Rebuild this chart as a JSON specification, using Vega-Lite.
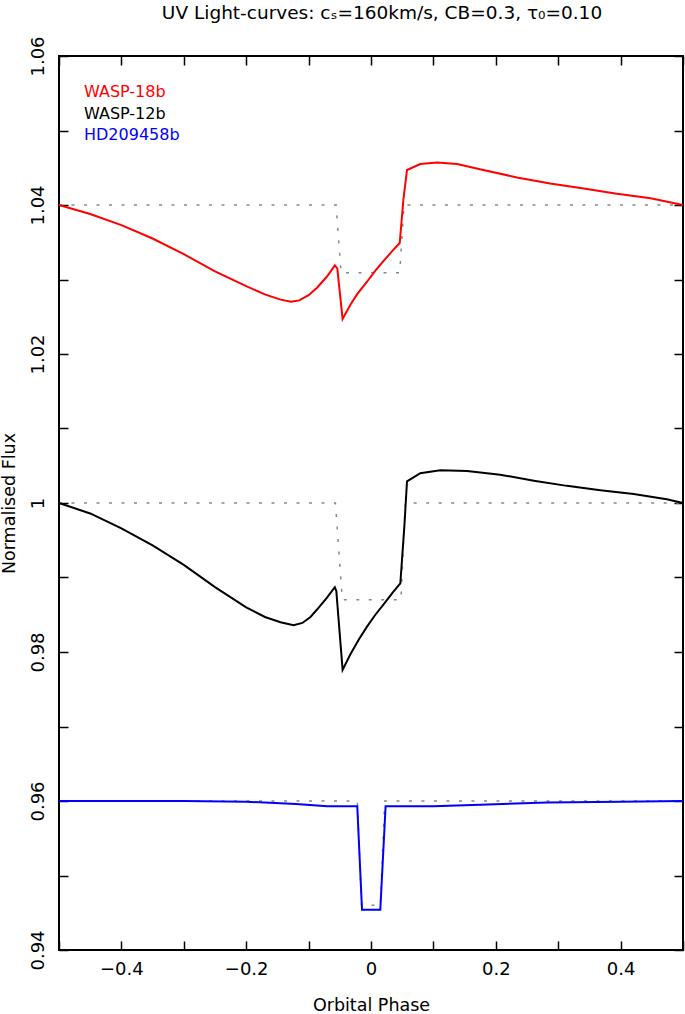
{
  "$schema": "https://vega.github.io/schema/vega-lite/v6.json",
  "autosize": "none",
  "padding": {"left": 59, "top": 56, "right": 2, "bottom": 64},
  "width": 624,
  "height": 894,
  "background": "white",
  "title": {"text": "UV Light-curves: cₛ=160km/s, CB=0.3, τ₀=0.10", "fontSize": 18.5, "fontWeight": "normal", "color": "black", "anchor": "middle", "offset": 13, "dx": 11},
  "config": {
    "font": "DejaVu Sans",
    "view": {"stroke": "black", "strokeWidth": 2},
    "axis": {"grid": false, "domain": false, "labelColor": "black", "titleColor": "black", "titleFontWeight": "normal", "labelFontSize": 18, "titleFontSize": 17.5, "tickColor": "black", "tickWidth": 1.5, "labelFlush": false, "labelOverlap": false}
  },
  "datasets": {
    "curves": [
      {"planet": "WASP-18b", "phase": -0.5, "flux": 1.0400},
      {"planet": "WASP-18b", "phase": -0.45, "flux": 1.0388},
      {"planet": "WASP-18b", "phase": -0.4, "flux": 1.0373},
      {"planet": "WASP-18b", "phase": -0.35, "flux": 1.0355},
      {"planet": "WASP-18b", "phase": -0.3, "flux": 1.0334},
      {"planet": "WASP-18b", "phase": -0.25, "flux": 1.0311},
      {"planet": "WASP-18b", "phase": -0.2, "flux": 1.0291},
      {"planet": "WASP-18b", "phase": -0.17, "flux": 1.0280},
      {"planet": "WASP-18b", "phase": -0.145, "flux": 1.0273},
      {"planet": "WASP-18b", "phase": -0.128, "flux": 1.0270},
      {"planet": "WASP-18b", "phase": -0.115, "flux": 1.0272},
      {"planet": "WASP-18b", "phase": -0.1, "flux": 1.0279},
      {"planet": "WASP-18b", "phase": -0.0865, "flux": 1.0289},
      {"planet": "WASP-18b", "phase": -0.0705, "flux": 1.0304},
      {"planet": "WASP-18b", "phase": -0.058, "flux": 1.0319},
      {"planet": "WASP-18b", "phase": -0.054, "flux": 1.0315},
      {"planet": "WASP-18b", "phase": -0.0455, "flux": 1.0247},
      {"planet": "WASP-18b", "phase": -0.033, "flux": 1.0266},
      {"planet": "WASP-18b", "phase": -0.0224, "flux": 1.0280},
      {"planet": "WASP-18b", "phase": -0.0064, "flux": 1.0297},
      {"planet": "WASP-18b", "phase": 0.007, "flux": 1.0312},
      {"planet": "WASP-18b", "phase": 0.0202, "flux": 1.0325},
      {"planet": "WASP-18b", "phase": 0.035, "flux": 1.0339},
      {"planet": "WASP-18b", "phase": 0.046, "flux": 1.0349},
      {"planet": "WASP-18b", "phase": 0.052, "flux": 1.0408},
      {"planet": "WASP-18b", "phase": 0.0577, "flux": 1.0447},
      {"planet": "WASP-18b", "phase": 0.079, "flux": 1.0455},
      {"planet": "WASP-18b", "phase": 0.106, "flux": 1.0457},
      {"planet": "WASP-18b", "phase": 0.138, "flux": 1.0455},
      {"planet": "WASP-18b", "phase": 0.18, "flux": 1.0447},
      {"planet": "WASP-18b", "phase": 0.234, "flux": 1.0437},
      {"planet": "WASP-18b", "phase": 0.287, "flux": 1.0429},
      {"planet": "WASP-18b", "phase": 0.341, "flux": 1.0422},
      {"planet": "WASP-18b", "phase": 0.394, "flux": 1.0415},
      {"planet": "WASP-18b", "phase": 0.448, "flux": 1.0409},
      {"planet": "WASP-18b", "phase": 0.5, "flux": 1.0400},
      {"planet": "WASP-12b", "phase": -0.5, "flux": 1.0000},
      {"planet": "WASP-12b", "phase": -0.45, "flux": 0.9986},
      {"planet": "WASP-12b", "phase": -0.4, "flux": 0.9966},
      {"planet": "WASP-12b", "phase": -0.35, "flux": 0.9943},
      {"planet": "WASP-12b", "phase": -0.3, "flux": 0.9917},
      {"planet": "WASP-12b", "phase": -0.25, "flux": 0.9887},
      {"planet": "WASP-12b", "phase": -0.2, "flux": 0.9860},
      {"planet": "WASP-12b", "phase": -0.17, "flux": 0.9847},
      {"planet": "WASP-12b", "phase": -0.145, "flux": 0.9840},
      {"planet": "WASP-12b", "phase": -0.124, "flux": 0.9836},
      {"planet": "WASP-12b", "phase": -0.11, "flux": 0.9839},
      {"planet": "WASP-12b", "phase": -0.097, "flux": 0.9847},
      {"planet": "WASP-12b", "phase": -0.0865, "flux": 0.9857},
      {"planet": "WASP-12b", "phase": -0.0705, "flux": 0.9873},
      {"planet": "WASP-12b", "phase": -0.058, "flux": 0.9887},
      {"planet": "WASP-12b", "phase": -0.0556, "flux": 0.9882},
      {"planet": "WASP-12b", "phase": -0.0455, "flux": 0.9776},
      {"planet": "WASP-12b", "phase": -0.033, "flux": 0.9797},
      {"planet": "WASP-12b", "phase": -0.02, "flux": 0.9816},
      {"planet": "WASP-12b", "phase": -0.0064, "flux": 0.9834},
      {"planet": "WASP-12b", "phase": 0.007, "flux": 0.9850},
      {"planet": "WASP-12b", "phase": 0.0202, "flux": 0.9864},
      {"planet": "WASP-12b", "phase": 0.035, "flux": 0.9880},
      {"planet": "WASP-12b", "phase": 0.047, "flux": 0.9892},
      {"planet": "WASP-12b", "phase": 0.0534, "flux": 0.9968},
      {"planet": "WASP-12b", "phase": 0.0577, "flux": 1.0029},
      {"planet": "WASP-12b", "phase": 0.079, "flux": 1.0040},
      {"planet": "WASP-12b", "phase": 0.111, "flux": 1.0044},
      {"planet": "WASP-12b", "phase": 0.154, "flux": 1.0043},
      {"planet": "WASP-12b", "phase": 0.207, "flux": 1.0038},
      {"planet": "WASP-12b", "phase": 0.261, "flux": 1.0030},
      {"planet": "WASP-12b", "phase": 0.314, "flux": 1.0023},
      {"planet": "WASP-12b", "phase": 0.3675, "flux": 1.0017},
      {"planet": "WASP-12b", "phase": 0.421, "flux": 1.0012},
      {"planet": "WASP-12b", "phase": 0.474, "flux": 1.0005},
      {"planet": "WASP-12b", "phase": 0.5, "flux": 1.0000},
      {"planet": "HD209458b", "phase": -0.5, "flux": 0.9600},
      {"planet": "HD209458b", "phase": -0.3, "flux": 0.9600},
      {"planet": "HD209458b", "phase": -0.2, "flux": 0.9599},
      {"planet": "HD209458b", "phase": -0.12, "flux": 0.9596},
      {"planet": "HD209458b", "phase": -0.07, "flux": 0.9593},
      {"planet": "HD209458b", "phase": -0.022, "flux": 0.9593},
      {"planet": "HD209458b", "phase": -0.0144, "flux": 0.9454},
      {"planet": "HD209458b", "phase": 0.0149, "flux": 0.9454},
      {"planet": "HD209458b", "phase": 0.0234, "flux": 0.9593},
      {"planet": "HD209458b", "phase": 0.1, "flux": 0.9593},
      {"planet": "HD209458b", "phase": 0.175, "flux": 0.9595},
      {"planet": "HD209458b", "phase": 0.282, "flux": 0.9598},
      {"planet": "HD209458b", "phase": 0.4, "flux": 0.9599},
      {"planet": "HD209458b", "phase": 0.5, "flux": 0.9600}
    ],
    "refs": [
      {"planet": "WASP-18b", "phase": -0.5, "flux": 1.04},
      {"planet": "WASP-18b", "phase": -0.056, "flux": 1.04},
      {"planet": "WASP-18b", "phase": -0.048, "flux": 1.0309},
      {"planet": "WASP-18b", "phase": 0.046, "flux": 1.0309},
      {"planet": "WASP-18b", "phase": 0.053, "flux": 1.04},
      {"planet": "WASP-18b", "phase": 0.5, "flux": 1.04},
      {"planet": "WASP-12b", "phase": -0.5, "flux": 1.0},
      {"planet": "WASP-12b", "phase": -0.057, "flux": 1.0},
      {"planet": "WASP-12b", "phase": -0.046, "flux": 0.987},
      {"planet": "WASP-12b", "phase": 0.048, "flux": 0.987},
      {"planet": "WASP-12b", "phase": 0.055, "flux": 1.0},
      {"planet": "WASP-12b", "phase": 0.5, "flux": 1.0},
      {"planet": "HD209458b", "phase": -0.5, "flux": 0.96},
      {"planet": "HD209458b", "phase": -0.022, "flux": 0.96},
      {"planet": "HD209458b", "phase": -0.015, "flux": 0.946},
      {"planet": "HD209458b", "phase": 0.015, "flux": 0.946},
      {"planet": "HD209458b", "phase": 0.022, "flux": 0.96},
      {"planet": "HD209458b", "phase": 0.5, "flux": 0.96}
    ]
  },
  "layer": [
    {
      "data": {"name": "refs"},
      "mark": {"type": "line", "color": "#888888", "strokeWidth": 1.5, "strokeDash": [3, 9.5]},
      "encoding": {
        "x": {"field": "phase", "type": "quantitative", "scale": {"domain": [-0.5, 0.5], "nice": false, "zero": false},
          "axis": {"orient": "bottom", "values": [-0.5, -0.4, -0.3, -0.2, -0.1, 0, 0.1, 0.2, 0.3, 0.4, 0.5], "format": "~g",
            "labelExpr": "round(datum.value*10) % 2 == 0 ? datum.label : ''", "tickSize": -9, "labelPadding": 19,
            "title": "Orbital Phase", "titlePadding": 18,
            "encode": {"ticks": {"update": {"y2": {"signal": "round(datum.value*10) % 2 == 0 ? -9 : -5"}}}}}},
        "y": {"field": "flux", "type": "quantitative", "scale": {"domain": [0.94, 1.06], "nice": false, "zero": false},
          "axis": {"orient": "left", "values": [0.94, 0.95, 0.96, 0.97, 0.98, 0.99, 1.0, 1.01, 1.02, 1.03, 1.04, 1.05, 1.06], "format": "~g",
            "labelExpr": "round(datum.value*100) % 2 == 0 ? datum.label : ''", "tickSize": -9, "labelPadding": 21,
            "labelAngle": 270, "labelAlign": "center", "labelBaseline": "bottom",
            "title": "Normalised Flux", "titlePadding": 11,
            "encode": {"ticks": {"update": {"x2": {"signal": "round(datum.value*100) % 2 == 0 ? 9 : 5"}}}}}},
        "detail": {"field": "planet", "type": "nominal"}
      }
    },
    {
      "data": {"name": "curves"},
      "mark": {"type": "line", "strokeWidth": 2},
      "encoding": {
        "x": {"field": "phase", "type": "quantitative",
          "axis": {"orient": "top", "values": [-0.5, -0.4, -0.3, -0.2, -0.1, 0, 0.1, 0.2, 0.3, 0.4, 0.5], "labels": false, "tickSize": -9, "title": null,
            "encode": {"ticks": {"update": {"y2": {"signal": "round(datum.value*10) % 2 == 0 ? 9 : 5"}}}}}},
        "y": {"field": "flux", "type": "quantitative",
          "axis": {"orient": "right", "values": [0.94, 0.95, 0.96, 0.97, 0.98, 0.99, 1.0, 1.01, 1.02, 1.03, 1.04, 1.05, 1.06], "labels": false, "tickSize": -9, "title": null,
            "encode": {"ticks": {"update": {"x2": {"signal": "round(datum.value*100) % 2 == 0 ? -9 : -5"}}}}}},
        "color": {"field": "planet", "type": "nominal",
          "scale": {"domain": ["WASP-18b", "WASP-12b", "HD209458b"], "range": ["#ff0000", "#000000", "#0000ff"]},
          "legend": {"orient": "none", "legendX": 9, "legendY": 28, "title": null, "symbolSize": 0, "symbolOpacity": 0, "symbolStrokeWidth": 0,
            "labelFontSize": 16, "labelOffset": 0, "rowPadding": 5.5, "padding": 0, "labelLimit": 300,
            "encode": {"labels": {"update": {"fill": {"scale": "color", "field": "value"}}}}}}
      }
    }
  ],
  "resolve": {"axis": {"x": "independent", "y": "independent"}}
}
